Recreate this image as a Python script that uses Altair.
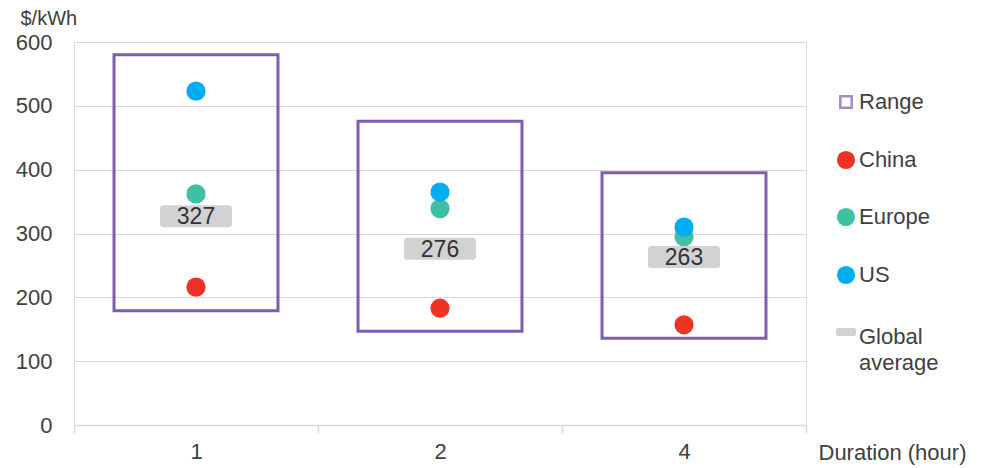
import altair as alt
import pandas as pd

durations = ["1", "2", "4"]
range_low = [179, 147, 136]
range_high = [580, 476, 395]
china = [216, 183, 157]
europe = [362, 339, 295]
us = [523, 365, 310]
global_avg = [327, 276, 263]

regions = ["China", "Europe", "US"]
region_colors = ["#EE3224", "#3EBFA6", "#00AEEF"]
purple = "#7E5CAE"
avg_gray = "#D2D2D2"
legend_labels = ["Range", "China", "Europe", "US", "Global", "average"]

FONT = "Liberation Sans"
FS = 22

ranges = pd.DataFrame({"duration": durations, "low": range_low, "high": range_high})
pts = pd.DataFrame({
    "duration": durations * 3,
    "region": ["China"] * 3 + ["Europe"] * 3 + ["US"] * 3,
    "value": china + europe + us,
})
avg = pd.DataFrame({"duration": durations, "avg": global_avg})

x_scale = alt.Scale(domain=durations, paddingInner=0, paddingOuter=0)
x_axis = alt.Axis(
    title="Duration (hour)", titleX=744, titleY=27, titleAlign="left",
    titleBaseline="middle", titleAngle=0, titleFontSize=FS, titleFontWeight="normal",
    titleColor="#404040", titleFont=FONT,
    labelFontSize=FS, labelColor="#404040", labelFont=FONT, labelPadding=8, labelAngle=0,
    domainColor="#D9D9D9", domainWidth=1.5, tickColor="#D9D9D9", tickSize=8,
    tickWidth=1.5, tickBand="extent", grid=False,
)
y_scale = alt.Scale(domain=[0, 600], nice=False)
y_axis = alt.Axis(
    title="$/kWh", titleX=-54, titleY=-24, titleAlign="left", titleBaseline="middle",
    titleAngle=0, titleFontSize=20, titleFontWeight="normal", titleColor="#404040",
    titleFont=FONT, values=[0, 100, 200, 300, 400, 500, 600], labelFontSize=FS,
    labelColor="#404040", labelFont=FONT, labelPadding=22, ticks=False, domain=False,
    grid=True, gridColor="#D9D9D9", gridWidth=1,
)

X = alt.X("duration:N", sort=durations, scale=x_scale, axis=x_axis)

boxes = alt.Chart(ranges).mark_bar(
    width=alt.RelativeBandSize(0.672), fillOpacity=0, stroke=purple, strokeWidth=3
).encode(
    x=X,
    y=alt.Y("low:Q", scale=y_scale, axis=y_axis),
    y2="high:Q",
)

dots = alt.Chart(pts).mark_circle(size=370, opacity=1).encode(
    x=X,
    y=alt.Y("value:Q", scale=y_scale, axis=y_axis),
    color=alt.Color("region:N", scale=alt.Scale(domain=regions, range=region_colors), legend=None),
)

avg_box = alt.Chart(avg).mark_tick(
    size=72, thickness=22, cornerRadius=3, color=avg_gray, opacity=1
).encode(
    x=X,
    y=alt.Y("avg:Q", scale=y_scale, axis=y_axis),
)

avg_text = alt.Chart(avg).mark_text(
    font=FONT, fontSize=23, color="#333333", baseline="middle", align="center", dy=1
).encode(
    x=X,
    y=alt.Y("avg:Q", scale=y_scale, axis=y_axis),
    text="avg:Q",
)

one = pd.DataFrame({"k": [0]})
leg_x_sym = 772
leg_x_txt = 785
leg_layers = []
leg_layers.append(alt.Chart(one).mark_square(size=130, filled=False, color=purple, strokeWidth=2.5).encode(
    x=alt.value(leg_x_sym), y=alt.value(60)))
for lab, col, yy in zip(regions, region_colors, [118, 175, 233]):
    leg_layers.append(alt.Chart(one).mark_circle(size=330, opacity=1, color=col).encode(
        x=alt.value(leg_x_sym), y=alt.value(yy)))
leg_layers.append(alt.Chart(one).mark_rect(color=avg_gray, cornerRadius=2).encode(
    x=alt.value(762), x2=alt.value(782), y=alt.value(286), y2=alt.value(294)))
for lab, yy in zip(legend_labels, [60, 118, 175, 233, 295, 321]):
    leg_layers.append(alt.Chart(one).mark_text(
        font=FONT, fontSize=FS, color="#404040", align="left", baseline="middle", text=lab
    ).encode(x=alt.value(leg_x_txt), y=alt.value(yy)))

chart = alt.layer(boxes, dots, avg_box, avg_text, *leg_layers).properties(
    width=732, height=383,
    padding={"left": 66, "top": 34, "right": 167, "bottom": 43},
    autosize=alt.AutoSizeParams(type="none"),
).configure_view(stroke=None).configure(background="white")

chart.save("out.html", embed_options={"renderer": "svg", "actions": False})
